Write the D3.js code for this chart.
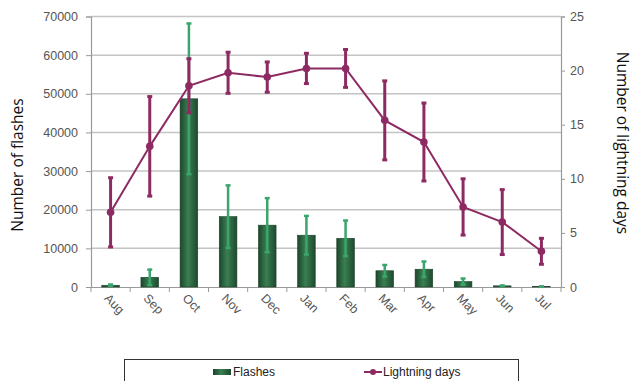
<!DOCTYPE html>
<html><head><meta charset="utf-8">
<script src="https://cdn.jsdelivr.net/npm/d3@7"></script>
<style>body{margin:0;background:#fff}svg{display:block;font-family:"Liberation Sans",Arial,sans-serif}</style>
</head><body><svg id="c" width="635" height="381"></svg>
<script>
const months = ["Aug","Sep","Oct","Nov","Dec","Jan","Feb","Mar","Apr","May","Jun","Jul"];
const flashes = [450,2500,48700,18200,16000,13400,12600,4200,4600,1400,300,100];
const flashesErr = [200,2000,19500,8100,7000,5000,4600,1500,2000,800,100,50];
const days = [6.9,13.0,18.6,19.8,19.4,20.2,20.2,15.4,13.4,7.4,6.0,3.3];
const daysErr = [3.2,4.6,2.5,1.9,1.4,1.4,1.75,3.65,3.6,2.6,3.0,1.2];
const leftTicks = [0,10000,20000,30000,40000,50000,60000,70000];
const rightTicks = [0,5,10,15,20,25];

const svg = d3.select("#c");
const L=91,R=561,T=16.5,B=287;
const x = d3.scaleBand().domain(months).range([L,R]).paddingInner(0.55).paddingOuter(0.275);
const xc = d => x(d)+x.bandwidth()/2;
const yL = d3.scaleLinear().domain([0,70000]).range([B,T]);
const yR = d3.scaleLinear().domain([0,25]).range([B,T]);

const defs = svg.append("defs");
const g = defs.append("linearGradient").attr("id","bg").attr("x1","0").attr("x2","1").attr("y1","0").attr("y2","0");
g.append("stop").attr("offset","0").attr("stop-color","#1b472b");
g.append("stop").attr("offset","0.45").attr("stop-color","#3a7f52");
g.append("stop").attr("offset","1").attr("stop-color","#1d4a2e");

// gridlines
svg.append("g").selectAll("line").data(leftTicks.slice(1)).join("line")
  .attr("x1",L).attr("x2",R).attr("y1",d=>yL(d)).attr("y2",d=>yL(d))
  .attr("stroke","#c4c4c4").attr("stroke-width",1.5);

// axes
const ax = svg.append("g").attr("transform",`translate(${L},0)`)
  .call(d3.axisLeft(yL).tickValues(leftTicks).tickSize(5).tickPadding(8).tickFormat(d3.format("d")));
const ar = svg.append("g").attr("transform",`translate(${R},0)`)
  .call(d3.axisRight(yR).tickValues(rightTicks).tickSize(4).tickPadding(5));
const axb = svg.append("g").attr("transform",`translate(0,${B})`)
  .call(d3.axisBottom(x).tickSize(0).tickFormat(""));
[ax,ar,axb].forEach(a=>{a.select(".domain").attr("stroke","#999").attr("stroke-width",1.2);
  a.selectAll("line").attr("stroke","#999");
  a.selectAll("text").attr("fill","#555").attr("font-size",12.5);});
// category ticks
svg.append("g").selectAll("line").data(months).join("line")
  .attr("x1",d=>x(d)-x.step()*0.275).attr("x2",d=>x(d)-x.step()*0.275)
  .attr("y1",B).attr("y2",B+5).attr("stroke","#999");
svg.append("line").attr("x1",R).attr("x2",R).attr("y1",B).attr("y2",B+5).attr("stroke","#999");

// x labels
svg.append("g").selectAll("text").data(months).join("text")
  .attr("transform",d=>`translate(${xc(d)-4},${B+9}) rotate(45)`)
  .attr("text-anchor","start").attr("dy","0.35em").attr("font-size",12.5).attr("fill","#555")
  .text(d=>d);

// bars
svg.append("g").selectAll("rect").data(months).join("rect")
  .attr("x",d=>x(d)).attr("width",x.bandwidth())
  .attr("y",(d,i)=>yL(flashes[i])).attr("height",(d,i)=>B-yL(flashes[i]))
  .attr("fill","url(#bg)").attr("stroke","#1a3f27").attr("stroke-width",0.6);

// bar error bars
const fe = svg.append("g").attr("stroke","#3aa56c").attr("stroke-width",2.5);
months.forEach((m,i)=>{
  const t=yL(flashes[i]+flashesErr[i]), b=yL(Math.max(0,flashes[i]-flashesErr[i]));
  fe.append("line").attr("x1",xc(m)).attr("x2",xc(m)).attr("y1",t).attr("y2",b);
  fe.append("line").attr("x1",xc(m)-2.5).attr("x2",xc(m)+2.5).attr("y1",t).attr("y2",t);
  fe.append("line").attr("x1",xc(m)-2.5).attr("x2",xc(m)+2.5).attr("y1",b).attr("y2",b);
});

// line
const lc="#8e2a62";
svg.append("path").datum(months).attr("fill","none").attr("stroke",lc).attr("stroke-width",2)
  .attr("d",d3.line().x(d=>xc(d)).y((d,i)=>yR(days[i])));
const de = svg.append("g").attr("stroke",lc).attr("stroke-width",3);
months.forEach((m,i)=>{
  const t=yR(days[i]+daysErr[i]), b=yR(days[i]-daysErr[i]);
  de.append("line").attr("x1",xc(m)).attr("x2",xc(m)).attr("y1",t).attr("y2",b);
  de.append("line").attr("x1",xc(m)-2.5).attr("x2",xc(m)+2.5).attr("y1",t).attr("y2",t);
  de.append("line").attr("x1",xc(m)-2.5).attr("x2",xc(m)+2.5).attr("y1",b).attr("y2",b);
});
svg.append("g").selectAll("circle").data(months).join("circle")
  .attr("cx",d=>xc(d)).attr("cy",(d,i)=>yR(days[i])).attr("r",3.8).attr("fill",lc);

// axis titles
svg.append("text").attr("transform","translate(23,165) rotate(-90)").attr("text-anchor","middle")
  .attr("font-family","'Open Sans',sans-serif").attr("font-size",15.5).attr("fill","#111").text("Number of flashes");
svg.append("text").attr("transform","translate(617,143) rotate(90)").attr("text-anchor","middle")
  .attr("font-family","'Open Sans',sans-serif").attr("font-size",15.5).attr("fill","#111").text("Number of lightning days");

// legend
svg.append("rect").attr("x",124.5).attr("y",359.5).attr("width",394).attr("height",30)
  .attr("fill","#fff").attr("stroke","#333");
svg.append("rect").attr("x",213).attr("y",369).attr("width",18).attr("height",6).attr("fill","url(#bg)");
svg.append("text").attr("x",233).attr("y",376).attr("font-size",12).attr("fill","#222").text("Flashes");
svg.append("line").attr("x1",364).attr("x2",382).attr("y1",372).attr("y2",372).attr("stroke",lc).attr("stroke-width",2);
svg.append("circle").attr("cx",373).attr("cy",372).attr("r",3).attr("fill",lc);
svg.append("text").attr("x",383).attr("y",376).attr("font-size",12).attr("fill","#222").text("Lightning days");
</script></body></html>
